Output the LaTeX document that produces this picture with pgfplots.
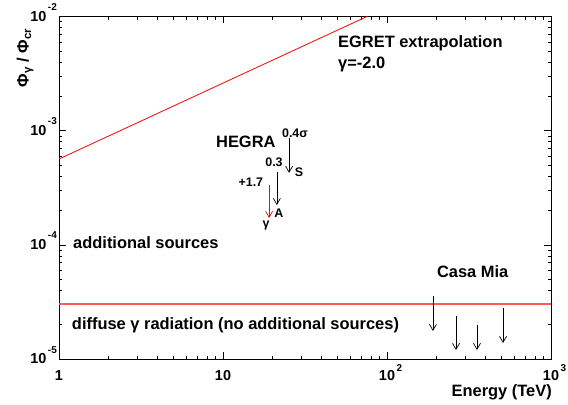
\documentclass[border=0pt]{standalone}
\usepackage{pgfplots}
\pgfplotsset{compat=1.18}
\usepackage{fontspec}
\setmainfont{Liberation Sans}
\usetikzlibrary{arrows.meta}
\newcommand{\xe}[1]{\textbf{10}\rlap{\smash{\hspace{1.5bp}\raisebox{0.62em}{\fontsize{10}{10}\selectfont\bfseries #1}}}}
\newcommand{\ye}[1]{\textbf{10}\smash{\hspace{1.5bp}\raisebox{0.75em}{\fontsize{10}{10}\selectfont\bfseries #1}}}
\tikzset{
  big/.style={font=\fontsize{16.5}{18}\selectfont\bfseries, inner sep=0pt},
  small/.style={font=\fontsize{12.5}{13}\selectfont\bfseries, inner sep=0pt},
  ularrow/.style={line width=0.7bp, -{Straight Barb[length=6bp,width=7bp]}},
}
\begin{document}
\begin{tikzpicture}
\useasboundingbox (0,0) rectangle (568bp,405bp);
\begin{axis}[
  at={(59bp,46bp)}, anchor=south west,
  scale only axis, width=492bp, height=342.5bp,
  xmode=log, ymode=log,
  xmin=1, xmax=1000, ymin=1e-5, ymax=1e-2,
  axis line style={line width=1bp},
  major tick length=7bp, minor tick length=3.5bp,
  every tick/.style={black, line width=0.6bp},
  xtick={1,10,100,1000},
  xticklabels={\textbf{1},\textbf{10},\xe{2},\xe{3}},
  ytick={1e-5,1e-4,1e-3,1e-2},
  yticklabels={\ye{-5},\ye{-4},\ye{-3},\ye{-2}},
  tick label style={font=\fontsize{14.5}{16}\selectfont\bfseries},
  xticklabel style={anchor=north, inner sep=0pt, yshift=-11bp},
  yticklabel style={anchor=east, inner sep=0pt, xshift=-2bp},
  clip mode=individual,
]
% EGRET extrapolation
\addplot[color=red, line width=0.8bp] coordinates {(1,5.65e-4) (75.5,1e-2)};
% diffuse level
\addplot[color=red!65, line width=1.3bp] coordinates {(1,3.04e-5) (1000,3.04e-5)};
% HEGRA upper limits
\addplot[color=black, ularrow] coordinates {(25.3,8.63e-4) (25.3,4.27e-4)};
\addplot[color=black, ularrow] coordinates {(21.3,4.35e-4) (21.3,2.23e-4)};
\addplot[color=red, ularrow] coordinates {(19.1,3.34e-4) (19.1,1.72e-4)};
% Casa Mia upper limits
\addplot[color=black, ularrow] coordinates {(190.6,3.57e-5) (190.6,1.76e-5)};
\addplot[color=black, ularrow] coordinates {(263.6,2.38e-5) (263.6,1.20e-5)};
\addplot[color=black, ularrow] coordinates {(353.8,1.99e-5) (353.8,1.20e-5)};
\addplot[color=black, ularrow] coordinates {(509.9,2.80e-5) (509.9,1.38e-5)};
% texts
\node[big, anchor=west] at (rel axis cs:0.567,0.922) {EGRET extrapolation};
\node[big, anchor=west] at (rel axis cs:0.567,0.861) {γ=-2.0};
\node[big, anchor=west] at (rel axis cs:0.319,0.634) {HEGRA};
\node[big, anchor=west] at (rel axis cs:0.0285,0.339) {additional sources};
\node[big, anchor=west] at (rel axis cs:0.026,0.099) {diffuse γ radiation (no additional sources)};
\node[big, anchor=west] at (rel axis cs:0.768,0.254) {Casa Mia};
\node[big, anchor=east] at (rel axis cs:1.002,-0.096) {Energy (TeV)};
\node[big, anchor=east, rotate=90] at (rel axis cs:-0.069,0.966) {Φ\textsubscript{γ} / Φ\textsubscript{cr}};
\node[small, anchor=west] at (rel axis cs:0.453,0.660) {0.4σ};
\node[small, anchor=west] at (rel axis cs:0.419,0.575) {0.3};
\node[small] at (rel axis cs:0.488,0.546) {S};
\node[small] at (rel axis cs:0.390,0.517) {+1.7};
\node[small] at (rel axis cs:0.447,0.426) {A};
\node[small] at (rel axis cs:0.421,0.391) {γ};
\end{axis}
\end{tikzpicture}
\end{document}
